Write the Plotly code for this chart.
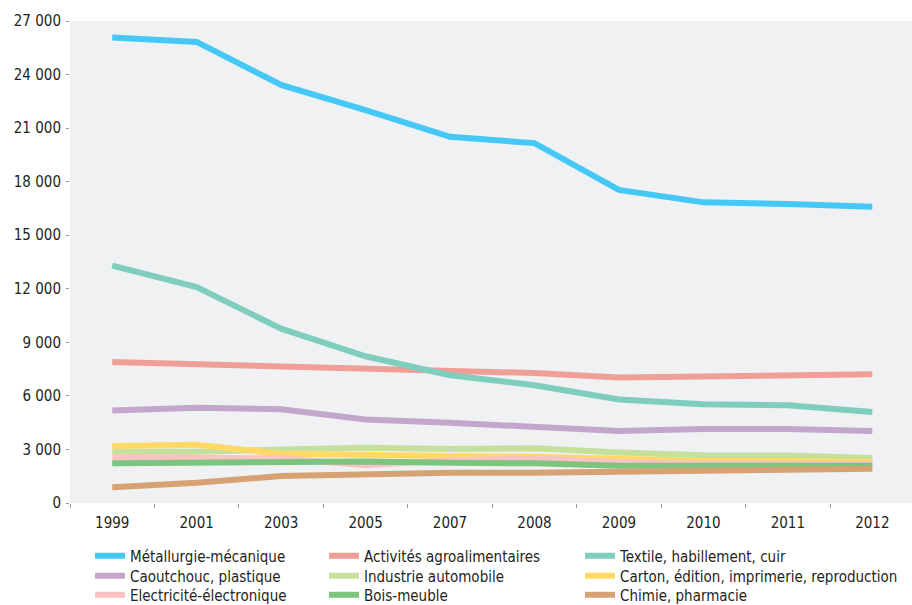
import plotly.graph_objects as go

years = ["1999", "2001", "2003", "2005", "2007", "2008", "2009", "2010", "2011", "2012"]

metallurgie = [26070, 25830, 23420, 22010, 20510, 20160, 17540, 16840, 16750, 16600]
agroalimentaire = [7900, 7770, 7640, 7590, 7380, 7280, 7030, 7080, 7210, 7210]
textile = [13300, 12090, 9770, 8220, 7160, 6600, 5800, 5530, 5480, 5100]
caoutchouc = [5180, 5330, 5250, 4680, 4490, 4300, 4040, 4150, 4150, 4030]
automobile = [2870, 2870, 3000, 3090, 3020, 3060, 2830, 2680, 2660, 2520]
carton = [3190, 3260, 2760, 2660, 2630, 2590, 2440, 2370, 2370, 2310]
electricite = [2570, 2550, 2500, 2120, 2400, 2500, 2290, 2200, 2200, 2180]
bois = [2220, 2250, 2330, 2330, 2250, 2220, 2090, 2070, 2090, 2090]
chimie = [880, 1140, 1510, 1600, 1700, 1700, 1730, 1790, 1860, 1920]

names = ["Métallurgie-mécanique", "Activités agroalimentaires", "Textile, habillement, cuir",
         "Caoutchouc, plastique", "Industrie automobile", "Carton, édition, imprimerie, reproduction",
         "Electricité-électronique", "Bois-meuble", "Chimie, pharmacie"]
series = [metallurgie, agroalimentaire, textile, caoutchouc, automobile, carton, electricite, bois, chimie]
colors = ["#45c8f5", "#ef9f95", "#7fcdbd", "#c3a6cc", "#c4e09c", "#ffd966", "#f9c2c3", "#7dc47f", "#d6a273"]

y_ticks = [0, 3000, 6000, 9000, 12000, 15000, 18000, 21000, 24000, 27000]
y_ticktext = ["0", "3 000", "6 000", "9 000", "12 000", "15 000", "18 000", "21 000", "24 000", "27 000"]

FONT = "Liberation Sans Narrow, DejaVu Sans Condensed, Arial Narrow, sans-serif"
TXT = "#231f20"

W, H = 912, 605
ML, MR, MT, MB = 70, 0, 21, 102
PW = W - ML - MR
PH = H - MT - MB

# legend layout: 3 columns x 3 rows (pixel positions of the legend boxes)
col_x = [90, 324, 580]
row_y = [556, 576, 595]

fig = go.Figure()
legends = {}
for i, (n, s, c) in enumerate(zip(names, series, colors)):
    lid = "legend" if i == 0 else f"legend{i + 1}"
    fig.add_trace(go.Scatter(
        x=years, y=s, name=n, mode="lines",
        line=dict(color=c, width=6),
        legend=lid,
    ))
    cx = col_x[i % 3]
    ry = row_y[i // 3]
    legends[lid] = dict(
        orientation="v", xref="paper", yref="paper",
        xanchor="left", yanchor="middle",
        x=(cx - ML) / PW, y=(H - MB - ry) / PH,
        font=dict(family=FONT, size=15, color=TXT),
        bgcolor="rgba(0,0,0,0)", borderwidth=0,
    )

fig.update_layout(
    width=W, height=H,
    margin=dict(l=ML, r=MR, t=MT, b=MB, autoexpand=False),
    paper_bgcolor="white",
    plot_bgcolor="#f0f1f3",
    font=dict(family=FONT, size=15, color=TXT),
    showlegend=True,
    xaxis=dict(
        type="category", range=[-0.5, 9.47],
        tickson="boundaries", ticks="outside", ticklen=4, tickcolor="#9a9a9a", tickwidth=1,
        showgrid=False, zeroline=False, showline=False, tickangle=0,
        ticklabelstandoff=9,
        tickfont=dict(family=FONT, size=15, color=TXT),
    ),
    yaxis=dict(
        range=[0, 27000], tickvals=y_ticks, ticktext=y_ticktext,
        ticks="outside", ticklen=3, tickcolor="#9a9a9a", tickwidth=1,
        showgrid=False, zeroline=False, showline=False,
        ticklabelstandoff=2,
        tickfont=dict(family=FONT, size=15, color=TXT),
    ),
    **legends,
)

fig.write_html(
    "out.html",
    config={"displayModeBar": False},
    post_script="document.body.style.margin='0px';document.body.style.overflow='hidden';",
)
